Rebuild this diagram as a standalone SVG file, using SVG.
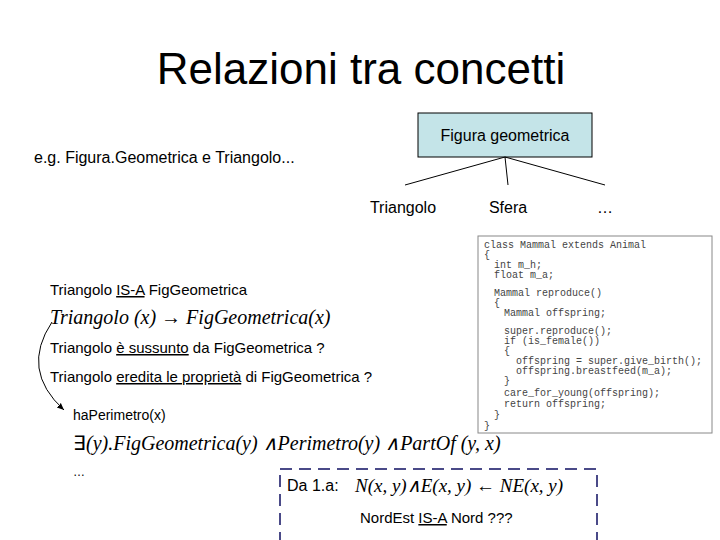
<svg xmlns="http://www.w3.org/2000/svg" width="720" height="540" viewBox="0 0 720 540">
<style>
.s{font-family:"Liberation Sans",Arial,sans-serif;fill:#000}
.m{font-family:"Liberation Serif","Times New Roman",serif;font-style:italic;fill:#000}
.c{font-family:"Liberation Mono","Courier New",monospace;font-size:10px;fill:#444}
.u{text-decoration:underline}
</style>
<defs><marker id="a" markerWidth="8" markerHeight="8" refX="7" refY="4" orient="auto"><path d="M0,1 L7,4 L0,7 z" fill="#000"/></marker></defs>
<rect width="720" height="540" fill="#fff"/>
<text class="s" x="361" y="84" font-size="44" text-anchor="middle">Relazioni tra concetti</text>
<text class="s" x="34" y="163" font-size="16">e.g. Figura.Geometrica e Triangolo...</text>
<g id="fig"><rect x="418" y="113" width="174" height="44" fill="#c4e4e8" stroke="#000"/><text class="s" x="505" y="141" font-size="16" text-anchor="middle">Figura geometrica</text></g>
<g id="connectors" stroke="#000" fill="none">
<line x1="505" y1="157" x2="405" y2="185"/><line x1="505" y1="157" x2="508" y2="185"/><line x1="505" y1="157" x2="605" y2="185"/>
<path d="M52,322 Q20,370 64,410" marker-end="url(#a)"/>
</g>
<g id="tri"><text class="s" x="403" y="213" font-size="16" text-anchor="middle">Triangolo</text></g>
<g id="sfera"><text class="s" x="508" y="213" font-size="16" text-anchor="middle">Sfera</text></g>
<g id="dots"><text class="s" x="605" y="213" font-size="16" text-anchor="middle">…</text></g>
<g id="code"><rect x="478" y="236" width="234" height="197" fill="#fff" stroke="#888"/>
<text class="c" x="484" y="248">class Mammal extends Animal</text>
<text class="c" x="484" y="258">{</text>
<text class="c" x="494" y="268">int m_h;</text>
<text class="c" x="494" y="278">float m_a;</text>
<text class="c" x="494" y="296">Mammal reproduce()</text>
<text class="c" x="494" y="306">{</text>
<text class="c" x="504" y="316">Mammal offspring;</text>
<text class="c" x="504" y="334">super.reproduce();</text>
<text class="c" x="504" y="344">if (is_female())</text>
<text class="c" x="504" y="354">{</text>
<text class="c" x="516" y="364">offspring = super.give_birth();</text>
<text class="c" x="516" y="374">offspring.breastfeed(m_a);</text>
<text class="c" x="504" y="384">}</text>
<text class="c" x="504" y="396">care_for_young(offspring);</text>
<text class="c" x="504" y="407">return offspring;</text>
<text class="c" x="494" y="418">}</text>
<text class="c" x="484" y="429">}</text></g>
<text class="s" x="50" y="295" font-size="15">Triangolo <tspan class="u">IS-A</tspan> FigGeometrica</text>
<text class="m" x="50" y="324" font-size="20">Triangolo (x) → FigGeometrica(x)</text>
<text class="s" x="50" y="353" font-size="15">Triangolo <tspan class="u">è sussunto</tspan> da FigGeometrica ?</text>
<text class="s" x="50" y="382" font-size="15">Triangolo <tspan class="u">eredita le proprietà</tspan> di FigGeometrica ?</text>
<text class="s" x="73" y="420" font-size="14">haPerimetro(x)</text>
<text class="m" x="73" y="450" font-size="20"><tspan font-style="normal">∃</tspan>(y).FigGeometrica(y) ∧Perimetro(y) ∧PartOf (y, x)</text>
<text class="s" x="73" y="476" font-size="12">…</text>
<g id="box"><rect x="280" y="469" width="317" height="72" fill="none" stroke="#4a4a88" stroke-width="2" stroke-dasharray="12,7"/>
<text class="s" x="287" y="491" font-size="16">Da 1.a:</text>
<text class="m" x="355" y="492" font-size="19">N(x, y)∧E(x, y) ← NE(x, y)</text>
<text class="s" x="360" y="523" font-size="15">NordEst <tspan class="u">IS-A</tspan> Nord ???</text></g>
</svg>
